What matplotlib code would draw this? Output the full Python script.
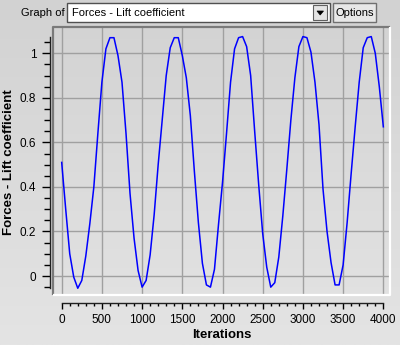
import numpy as np
import matplotlib.pyplot as plt
from matplotlib.colors import LinearSegmentedColormap
from matplotlib.patches import Rectangle, Polygon
from matplotlib.ticker import FixedLocator, FuncFormatter

plt.rcParams['font.family'] = ['Liberation Sans', 'DejaVu Sans']

# values (every 50 iterations)
iterations = np.arange(0, 4001, 50)
lift = [0.51, 0.30, 0.10, -0.005, -0.055, -0.02, 0.09, 0.235, 0.40, 0.64,
        0.87, 1.02, 1.07, 1.07, 0.99, 0.87, 0.64, 0.37, 0.17, 0.025,
        -0.05, -0.02, 0.095, 0.275, 0.50, 0.70, 0.90, 1.025, 1.07, 1.07,
        0.99, 0.89, 0.72, 0.47, 0.24, 0.057, -0.04, -0.05, 0.03, 0.23,
        0.42, 0.64, 0.87, 1.02, 1.07, 1.075, 1.03, 0.90, 0.65, 0.41,
        0.19, 0.04, -0.05, -0.03, 0.085, 0.27, 0.48, 0.70, 0.89, 1.03,
        1.075, 1.07, 1.005, 0.87, 0.68, 0.39, 0.20, 0.06, -0.04, -0.04,
        0.05, 0.24, 0.46, 0.67, 0.87, 1.025, 1.07, 1.075, 1.0, 0.85,
        0.67]
x_major = np.arange(0, 4001, 500)
x_minor = np.arange(0, 4001, 100)
y_major = [0, 0.2, 0.4, 0.6, 0.8, 1.0]
y_minor = np.arange(-0.05, 1.051, 0.05)

W, H = 400, 345
fig = plt.figure(figsize=(W / 100, H / 100), dpi=100)

# background layer in pixel coords
bg = fig.add_axes([0, 0, 1, 1], zorder=0)
bg.set_xlim(0, W)
bg.set_ylim(H, 0)
bg.axis('off')
cmap = LinearSegmentedColormap.from_list('bg', ['#d2d2d2', '#e4e4e4'])
bg.imshow(np.linspace(0, 1, 256).reshape(-1, 1), cmap=cmap, aspect='auto',
          extent=[0, W, H, 0], zorder=0)

# widgets on top
bg.text(21, 13, 'Graph of', fontsize=8, va='center', ha='left')
bg.add_patch(Rectangle((67, 3), 263, 19, fc='white', ec='#505050', lw=1))
bg.text(72, 13, 'Forces - Lift coefficient', fontsize=8, va='center', ha='left')
bg.add_patch(Rectangle((313, 5), 14, 15, fc='#e4e4e4', ec='#606060', lw=0.8))
bg.add_patch(Polygon([(317, 11), (323.5, 11), (320.2, 15)], closed=True,
                     fc='black', ec='black', lw=0.5))
bg.add_patch(Rectangle((333, 3), 43, 19, fc='#e8e8e8', ec='#707070', lw=1))
bg.text(354.5, 13, 'Options', fontsize=8, va='center', ha='center')

# main plot
l, r, t, b = 53, 390, 27, 295
ax = fig.add_axes([l / W, 1 - b / H, (r - l) / W, (b - t) / H], zorder=1)
ax.set_facecolor('none')

ax.plot(iterations, lift, color='#0000ff', lw=1.1, zorder=3)

ax.set_xlim(-108, 4083)
ax.set_ylim(-0.0853, 1.118)

ax.xaxis.set_major_locator(FixedLocator(x_major))
ax.xaxis.set_minor_locator(FixedLocator(x_minor))
ax.yaxis.set_major_locator(FixedLocator(y_major))
ax.yaxis.set_minor_locator(FixedLocator(y_minor))
ax.yaxis.set_major_formatter(FuncFormatter(lambda v, p: '%g' % v))
ax.xaxis.set_major_formatter(FuncFormatter(lambda v, p: '%d' % v))

ax.grid(True, which='major', color='#a0a0a0', lw=1, zorder=1)
ax.set_axisbelow(True)

ax.spines['top'].set_visible(False)
ax.spines['right'].set_visible(False)
ax.spines['left'].set_position(('outward', 2.2))
ax.spines['bottom'].set_position(('outward', 5.4))
ax.spines['left'].set_bounds(min(lift), max(lift))
ax.spines['bottom'].set_bounds(iterations[0], iterations[-1])
for s in ('left', 'bottom'):
    ax.spines[s].set_color('#202020')
    ax.spines[s].set_linewidth(1)

ax.tick_params(axis='y', which='major', length=5.8, width=1, pad=4, labelsize=8.5)
ax.tick_params(axis='y', which='minor', length=4, width=1)
ax.tick_params(axis='x', which='major', length=4.5, width=1, pad=3.5, labelsize=8.5)
ax.tick_params(axis='x', which='minor', length=2.5, width=1)

# sunken frame
ax.plot([0, 0, 1], [0, 1, 1], transform=ax.transAxes, color='#7a7a7a', lw=1.6,
        clip_on=False, zorder=4, solid_capstyle='butt')
ax.plot([0, 1, 1], [0, 0, 1], transform=ax.transAxes, color='white', lw=1.6,
        clip_on=False, zorder=4, solid_capstyle='butt')

ax.set_xlabel('Iterations', fontsize=9.5, fontweight='bold')
ax.set_ylabel('Forces - Lift coefficient', fontsize=9.5, fontweight='bold')
ax.xaxis.set_label_coords(0.5, -0.149)
ax.yaxis.set_label_coords(-0.131, 0.496)
ax.xaxis.label.set_va('center')
ax.yaxis.label.set_va('center')

fig.savefig('out.png', dpi=100, facecolor=fig.get_facecolor())
